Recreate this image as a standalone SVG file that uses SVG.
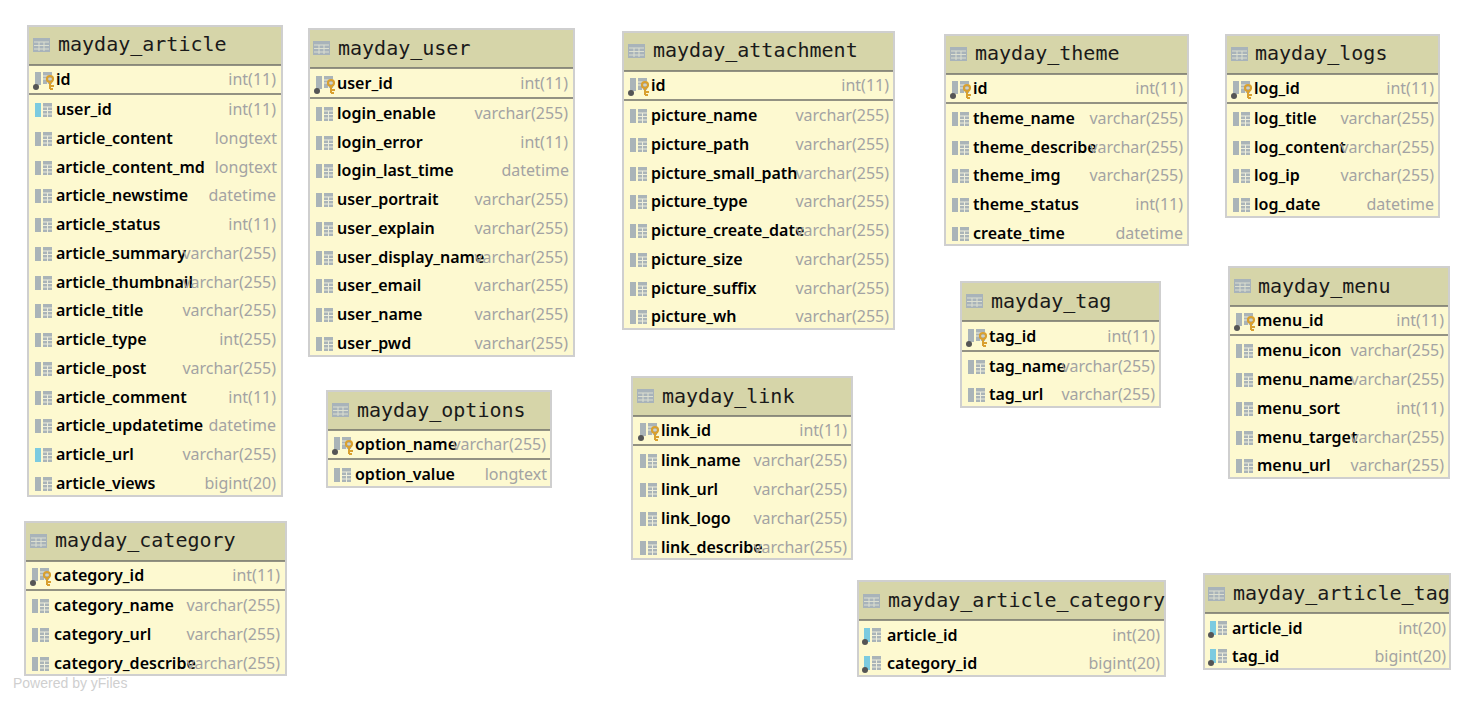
<svg xmlns="http://www.w3.org/2000/svg" xmlns:xlink="http://www.w3.org/1999/xlink" width="1476" height="702" viewBox="0 0 1476 702">
<style>
.box{fill:#fdf9d0;stroke:#cfcfcf;stroke-width:2}
.head{fill:#d6d5a9}
.rule{stroke:#6f6f6a;stroke-width:1.5}
.t{font-family:"DejaVu Sans Mono",monospace;font-size:20px;fill:#1a1a1a}
.n{font-family:"Noto Sans",sans-serif;font-size:16px;font-weight:600;fill:#000}
.y{font-family:"Noto Sans",sans-serif;font-size:16px;fill:#a3a3a3;text-anchor:end}
.pw{font-family:"Liberation Sans",sans-serif;font-size:14px;fill:#cfcfcf}
</style>
<defs>
<g id="tb"><rect width="17" height="14" fill="#a8b3ba"/><path d="M1 4h15M1 7.5h15M1 11h15M6 4v9M11 4v9" stroke="#dcdfd0" stroke-width="1" fill="none"/></g>
<g id="col"><rect x="0" y="-7" width="6" height="14" fill="#aab4b8"/><rect x="8" y="-7" width="9" height="14" fill="#aab4b8"/><path d="M8 -3h9M8 0.5h9M8 4h9M12.5 -3v10" stroke="#eeeedc" stroke-width="1" fill="none"/></g>
<g id="fk"><rect x="0" y="-7" width="6" height="14" fill="#7ccbe0"/><rect x="8" y="-7" width="9" height="14" fill="#aab4b8"/><path d="M8 -3h9M8 0.5h9M8 4h9M12.5 -3v10" stroke="#eeeedc" stroke-width="1" fill="none"/></g>
<g id="fkd"><use href="#fk"/><circle cx="1" cy="7" r="3" fill="#555"/></g>
<g id="pk"><rect x="0" y="-8" width="6" height="13" fill="#aab4b8"/><rect x="8" y="-8" width="9" height="12" fill="#aab4b8"/><path d="M8 -4h9M8 -1h9M12.5 -4v8" stroke="#eeeedc" stroke-width="1" fill="none"/><circle cx="1" cy="7" r="3" fill="#555"/><circle cx="15" cy="-1" r="3" fill="none" stroke="#d9a02f" stroke-width="2.2"/><path d="M15 2v7M15 6h4M15 9h3" stroke="#d9a02f" stroke-width="2" fill="none"/></g>
</defs>
<g id="connectors"></g>

<g id="mayday_article">
<rect class="box" x="28" y="26" width="254" height="470"/><rect class="head" x="29" y="27" width="252" height="38"/><line class="rule" x1="29" y1="65" x2="281" y2="65"/><line class="rule" x1="29" y1="94" x2="281" y2="94"/>
<use href="#tb" x="33" y="38"/><text class="t" x="58" y="51">mayday_article</text>
<use href="#pk" x="35" y="80"/><text class="n" x="56" y="85">id</text><text class="y" x="276" y="85">int(11)</text>
<use href="#fk" x="35" y="110"/><text class="n" x="56" y="115">user_id</text><text class="y" x="276" y="115">int(11)</text>
<use href="#col" x="35" y="139"/><text class="n" x="56" y="144">article_content</text><text class="y" x="277" y="144">longtext</text>
<use href="#col" x="35" y="168"/><text class="n" x="56" y="173">article_content_md</text><text class="y" x="277" y="173">longtext</text>
<use href="#col" x="35" y="196"/><text class="n" x="56" y="201">article_newstime</text><text class="y" x="276" y="201">datetime</text>
<use href="#col" x="35" y="225"/><text class="n" x="56" y="230">article_status</text><text class="y" x="276" y="230">int(11)</text>
<use href="#col" x="35" y="254"/><text class="n" x="56" y="259">article_summary</text><text class="y" x="276" y="259">varchar(255)</text>
<use href="#col" x="35" y="283"/><text class="n" x="56" y="288">article_thumbnail</text><text class="y" x="276" y="288">varchar(255)</text>
<use href="#col" x="35" y="311"/><text class="n" x="56" y="316">article_title</text><text class="y" x="276" y="316">varchar(255)</text>
<use href="#col" x="35" y="340"/><text class="n" x="56" y="345">article_type</text><text class="y" x="276" y="345">int(255)</text>
<use href="#col" x="35" y="369"/><text class="n" x="56" y="374">article_post</text><text class="y" x="276" y="374">varchar(255)</text>
<use href="#col" x="35" y="398"/><text class="n" x="56" y="403">article_comment</text><text class="y" x="276" y="403">int(11)</text>
<use href="#col" x="35" y="426"/><text class="n" x="56" y="431">article_updatetime</text><text class="y" x="276" y="431">datetime</text>
<use href="#fk" x="35" y="455"/><text class="n" x="56" y="460">article_url</text><text class="y" x="276" y="460">varchar(255)</text>
<use href="#col" x="35" y="484"/><text class="n" x="56" y="489">article_views</text><text class="y" x="276" y="489">bigint(20)</text>
</g>

<g id="mayday_user">
<rect class="box" x="309" y="29" width="265" height="327"/><rect class="head" x="310" y="30" width="263" height="38"/><line class="rule" x1="310" y1="68" x2="573" y2="68"/><line class="rule" x1="310" y1="98" x2="573" y2="98"/>
<use href="#tb" x="313" y="41"/><text class="t" x="338" y="55">mayday_user</text>
<use href="#pk" x="316" y="84"/><text class="n" x="337" y="89">user_id</text><text class="y" x="568" y="89">int(11)</text>
<use href="#col" x="316" y="114"/><text class="n" x="337" y="119">login_enable</text><text class="y" x="568" y="119">varchar(255)</text>
<use href="#col" x="316" y="143"/><text class="n" x="337" y="148">login_error</text><text class="y" x="568" y="148">int(11)</text>
<use href="#col" x="316" y="171"/><text class="n" x="337" y="176">login_last_time</text><text class="y" x="569" y="176">datetime</text>
<use href="#col" x="316" y="200"/><text class="n" x="337" y="205">user_portrait</text><text class="y" x="568" y="205">varchar(255)</text>
<use href="#col" x="316" y="229"/><text class="n" x="337" y="234">user_explain</text><text class="y" x="568" y="234">varchar(255)</text>
<use href="#col" x="316" y="258"/><text class="n" x="337" y="263">user_display_name</text><text class="y" x="568" y="263">varchar(255)</text>
<use href="#col" x="316" y="286"/><text class="n" x="337" y="291">user_email</text><text class="y" x="568" y="291">varchar(255)</text>
<use href="#col" x="316" y="315"/><text class="n" x="337" y="320">user_name</text><text class="y" x="568" y="320">varchar(255)</text>
<use href="#col" x="316" y="344"/><text class="n" x="337" y="349">user_pwd</text><text class="y" x="568" y="349">varchar(255)</text>
</g>

<g id="mayday_attachment">
<rect class="box" x="623" y="32" width="271" height="297"/><rect class="head" x="624" y="33" width="269" height="38"/><line class="rule" x1="624" y1="71" x2="893" y2="71"/><line class="rule" x1="624" y1="100" x2="893" y2="100"/>
<use href="#tb" x="628" y="44"/><text class="t" x="653" y="57">mayday_attachment</text>
<use href="#pk" x="630" y="86"/><text class="n" x="651" y="91">id</text><text class="y" x="889" y="91">int(11)</text>
<use href="#col" x="630" y="116"/><text class="n" x="651" y="121">picture_name</text><text class="y" x="889" y="121">varchar(255)</text>
<use href="#col" x="630" y="145"/><text class="n" x="651" y="150">picture_path</text><text class="y" x="889" y="150">varchar(255)</text>
<use href="#col" x="630" y="174"/><text class="n" x="651" y="179">picture_small_path</text><text class="y" x="889" y="179">varchar(255)</text>
<use href="#col" x="630" y="202"/><text class="n" x="651" y="207">picture_type</text><text class="y" x="889" y="207">varchar(255)</text>
<use href="#col" x="630" y="231"/><text class="n" x="651" y="236">picture_create_date</text><text class="y" x="889" y="236">varchar(255)</text>
<use href="#col" x="630" y="260"/><text class="n" x="651" y="265">picture_size</text><text class="y" x="889" y="265">varchar(255)</text>
<use href="#col" x="630" y="289"/><text class="n" x="651" y="294">picture_suffix</text><text class="y" x="889" y="294">varchar(255)</text>
<use href="#col" x="630" y="317"/><text class="n" x="651" y="322">picture_wh</text><text class="y" x="889" y="322">varchar(255)</text>
</g>

<g id="mayday_theme">
<rect class="box" x="945" y="35" width="243" height="210"/><rect class="head" x="946" y="36" width="241" height="38"/><line class="rule" x1="946" y1="74" x2="1187" y2="74"/><line class="rule" x1="946" y1="103" x2="1187" y2="103"/>
<use href="#tb" x="950" y="47"/><text class="t" x="975" y="60">mayday_theme</text>
<use href="#pk" x="952" y="89"/><text class="n" x="973" y="94">id</text><text class="y" x="1183" y="94">int(11)</text>
<use href="#col" x="952" y="119"/><text class="n" x="973" y="124">theme_name</text><text class="y" x="1183" y="124">varchar(255)</text>
<use href="#col" x="952" y="148"/><text class="n" x="973" y="153">theme_describe</text><text class="y" x="1183" y="153">varchar(255)</text>
<use href="#col" x="952" y="176"/><text class="n" x="973" y="181">theme_img</text><text class="y" x="1183" y="181">varchar(255)</text>
<use href="#col" x="952" y="205"/><text class="n" x="973" y="210">theme_status</text><text class="y" x="1183" y="210">int(11)</text>
<use href="#col" x="952" y="234"/><text class="n" x="973" y="239">create_time</text><text class="y" x="1183" y="239">datetime</text>
</g>

<g id="mayday_logs">
<rect class="box" x="1226" y="35" width="213" height="182"/><rect class="head" x="1227" y="36" width="211" height="38"/><line class="rule" x1="1227" y1="74" x2="1438" y2="74"/><line class="rule" x1="1227" y1="103" x2="1438" y2="103"/>
<use href="#tb" x="1231" y="47"/><text class="t" x="1255" y="60">mayday_logs</text>
<use href="#pk" x="1233" y="89"/><text class="n" x="1254" y="94">log_id</text><text class="y" x="1434" y="94">int(11)</text>
<use href="#col" x="1233" y="119"/><text class="n" x="1254" y="124">log_title</text><text class="y" x="1434" y="124">varchar(255)</text>
<use href="#col" x="1233" y="148"/><text class="n" x="1254" y="153">log_content</text><text class="y" x="1434" y="153">varchar(255)</text>
<use href="#col" x="1233" y="176"/><text class="n" x="1254" y="181">log_ip</text><text class="y" x="1434" y="181">varchar(255)</text>
<use href="#col" x="1233" y="205"/><text class="n" x="1254" y="210">log_date</text><text class="y" x="1434" y="210">datetime</text>
</g>

<g id="mayday_tag">
<rect class="box" x="961" y="282" width="199" height="125"/><rect class="head" x="962" y="283" width="197" height="38"/><line class="rule" x1="962" y1="321" x2="1159" y2="321"/><line class="rule" x1="962" y1="351" x2="1159" y2="351"/>
<use href="#tb" x="966" y="294"/><text class="t" x="991" y="308">mayday_tag</text>
<use href="#pk" x="968" y="337"/><text class="n" x="989" y="342">tag_id</text><text class="y" x="1155" y="342">int(11)</text>
<use href="#col" x="968" y="367"/><text class="n" x="989" y="372">tag_name</text><text class="y" x="1155" y="372">varchar(255)</text>
<use href="#col" x="968" y="395"/><text class="n" x="989" y="400">tag_url</text><text class="y" x="1155" y="400">varchar(255)</text>
</g>

<g id="mayday_menu">
<rect class="box" x="1229" y="267" width="220" height="211"/><rect class="head" x="1230" y="268" width="218" height="38"/><line class="rule" x1="1230" y1="306" x2="1448" y2="306"/><line class="rule" x1="1230" y1="335" x2="1448" y2="335"/>
<use href="#tb" x="1234" y="279"/><text class="t" x="1258" y="293">mayday_menu</text>
<use href="#pk" x="1236" y="321"/><text class="n" x="1257" y="326">menu_id</text><text class="y" x="1444" y="326">int(11)</text>
<use href="#col" x="1236" y="351"/><text class="n" x="1257" y="356">menu_icon</text><text class="y" x="1444" y="356">varchar(255)</text>
<use href="#col" x="1236" y="380"/><text class="n" x="1257" y="385">menu_name</text><text class="y" x="1444" y="385">varchar(255)</text>
<use href="#col" x="1236" y="409"/><text class="n" x="1257" y="414">menu_sort</text><text class="y" x="1444" y="414">int(11)</text>
<use href="#col" x="1236" y="438"/><text class="n" x="1257" y="443">menu_target</text><text class="y" x="1444" y="443">varchar(255)</text>
<use href="#col" x="1236" y="466"/><text class="n" x="1257" y="471">menu_url</text><text class="y" x="1444" y="471">varchar(255)</text>
</g>

<g id="mayday_options">
<rect class="box" x="327" y="391" width="224" height="96"/><rect class="head" x="328" y="392" width="222" height="38"/><line class="rule" x1="328" y1="430" x2="550" y2="430"/><line class="rule" x1="328" y1="459" x2="550" y2="459"/>
<use href="#tb" x="332" y="403"/><text class="t" x="357" y="417">mayday_options</text>
<use href="#pk" x="334" y="445"/><text class="n" x="355" y="450">option_name</text><text class="y" x="546" y="450">varchar(255)</text>
<use href="#col" x="334" y="475"/><text class="n" x="355" y="480">option_value</text><text class="y" x="547" y="480">longtext</text>
</g>

<g id="mayday_link">
<rect class="box" x="632" y="377" width="220" height="182"/><rect class="head" x="633" y="378" width="218" height="38"/><line class="rule" x1="633" y1="416" x2="851" y2="416"/><line class="rule" x1="633" y1="445" x2="851" y2="445"/>
<use href="#tb" x="637" y="389"/><text class="t" x="662" y="403">mayday_link</text>
<use href="#pk" x="640" y="431"/><text class="n" x="661" y="436">link_id</text><text class="y" x="847" y="436">int(11)</text>
<use href="#col" x="640" y="461"/><text class="n" x="661" y="466">link_name</text><text class="y" x="847" y="466">varchar(255)</text>
<use href="#col" x="640" y="490"/><text class="n" x="661" y="495">link_url</text><text class="y" x="847" y="495">varchar(255)</text>
<use href="#col" x="640" y="519"/><text class="n" x="661" y="524">link_logo</text><text class="y" x="847" y="524">varchar(255)</text>
<use href="#col" x="640" y="548"/><text class="n" x="661" y="553">link_describe</text><text class="y" x="847" y="553">varchar(255)</text>
</g>

<g id="mayday_category">
<rect class="box" x="25" y="522" width="261" height="153"/><rect class="head" x="26" y="523" width="259" height="38"/><line class="rule" x1="26" y1="561" x2="285" y2="561"/><line class="rule" x1="26" y1="590" x2="285" y2="590"/>
<use href="#tb" x="30" y="534"/><text class="t" x="55" y="547">mayday_category</text>
<use href="#pk" x="32" y="576"/><text class="n" x="54" y="581">category_id</text><text class="y" x="280" y="581">int(11)</text>
<use href="#col" x="32" y="606"/><text class="n" x="54" y="611">category_name</text><text class="y" x="280" y="611">varchar(255)</text>
<use href="#col" x="32" y="635"/><text class="n" x="54" y="640">category_url</text><text class="y" x="280" y="640">varchar(255)</text>
<use href="#col" x="32" y="664"/><text class="n" x="54" y="669">category_describe</text><text class="y" x="280" y="669">varchar(255)</text>
</g>

<g id="mayday_article_category">
<rect class="box" x="858" y="581" width="307" height="95"/><rect class="head" x="859" y="582" width="305" height="38"/><line class="rule" x1="859" y1="620" x2="1164" y2="620"/>
<use href="#tb" x="863" y="594"/><text class="t" x="888" y="607">mayday_article_category</text>
<use href="#fkd" x="864" y="635"/><text class="n" x="887" y="641">article_id</text><text class="y" x="1160" y="641">int(20)</text>
<use href="#fkd" x="864" y="663"/><text class="n" x="887" y="669">category_id</text><text class="y" x="1160" y="669">bigint(20)</text>
</g>

<g id="mayday_article_tag">
<rect class="box" x="1204" y="574" width="246" height="95"/><rect class="head" x="1205" y="575" width="244" height="38"/><line class="rule" x1="1205" y1="613" x2="1449" y2="613"/>
<use href="#tb" x="1208" y="587"/><text class="t" x="1233" y="600">mayday_article_tag</text>
<use href="#fkd" x="1210" y="628"/><text class="n" x="1232" y="634">article_id</text><text class="y" x="1446" y="634">int(20)</text>
<use href="#fkd" x="1210" y="656"/><text class="n" x="1232" y="662">tag_id</text><text class="y" x="1446" y="662">bigint(20)</text>
</g>

<text class="pw" x="13" y="688">Powered by yFiles</text>
</svg>
